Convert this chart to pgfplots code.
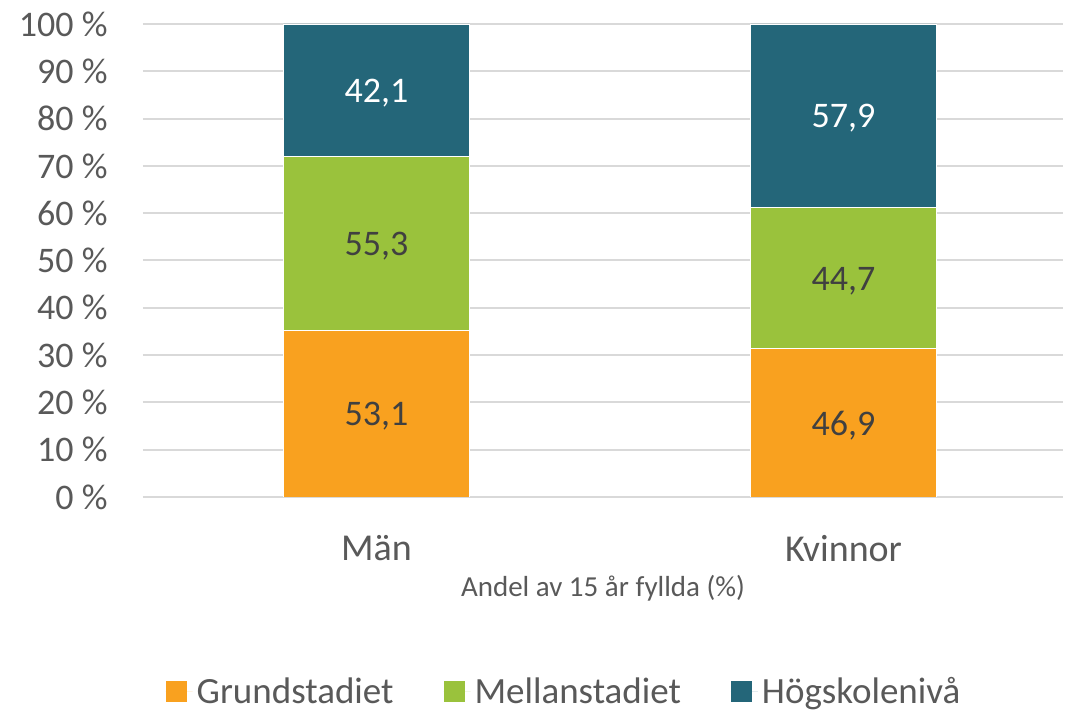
\documentclass[border=0pt]{standalone}
\usepackage{fontspec}
\setmainfont{Carlito}
\usepackage{pgfplots}
\pgfplotsset{compat=1.18}

\definecolor{grund}{HTML}{F9A11F}
\definecolor{mellan}{HTML}{9AC23C}
\definecolor{hog}{HTML}{246679}
\definecolor{txt}{HTML}{595959}
\definecolor{lab}{HTML}{404040}
\definecolor{gridc}{HTML}{D9D9D9}

% bar heights: share of each row total; labels: values shown in the chart
\pgfplotstableread{
x grund glab mellan mlab hog hlab
0 35.28 53,1 36.74 55,3 27.98 42,1
1 31.37 46,9 29.90 44,7 38.73 57,9
}\data

\begin{document}
\begin{tikzpicture}
\path[use as bounding box] (-71.5pt,-107pt) rectangle (461.5pt,248.5pt);
\begin{axis}[
  scale only axis, width=460pt, height=236.5pt,
  ybar stacked, bar width=93pt,
  xmin=-0.5, xmax=1.47, ymin=0, ymax=100,
  xtick={0,1}, xticklabels={Män,Kvinnor},
  ytick={0,10,...,100},
  yticklabel={\pgfmathprintnumber{\tick}~\%},
  /pgf/number format/assume math mode=true,
  axis lines*=left,
  y axis line style={draw=none},
  x axis line style={gridc, line width=1pt},
  major tick length=0pt,
  ymajorgrids, grid style={gridc, line width=1pt},
  tick label style={text=txt},
  yticklabel style={anchor=east, inner sep=0pt, xshift=-17.5pt,
    font=\fontsize{18}{21}\selectfont},
  xticklabel style={anchor=north, inner sep=0pt, yshift=-19pt,
    font=\fontsize{19}{22}\selectfont},
  xlabel={Andel av 15 år fyllda (\%)},
  xlabel style={at={(axis description cs:0.5,0)}, anchor=north,
    inner sep=0pt, yshift=-39pt, font=\fontsize{14.5}{17}\selectfont, text=txt},
  point meta=explicit symbolic,
  nodes near coords,
  every node near coord/.append style={font=\fontsize{18}{21}\selectfont,
    anchor=center, yshift=-1.5pt},
  legend columns=3,
  legend style={at={(0.4587,-0.412)}, anchor=center, draw=none,
    font=\fontsize{18.5}{21}\selectfont, text=txt,
    /tikz/every even column/.append style={column sep=23pt}},
  legend image code/.code={\fill[#1,draw=none] (0pt,-5.25pt) rectangle (10.5pt,5.25pt);
    \path[draw=none] (0pt,0pt) -- (13.5pt,0pt);},
]
\addplot[fill=grund, draw=white, line width=0.3pt,
  every node near coord/.append style={text=lab}]
  table[x=x, y=grund, meta=glab] {\data};
\addlegendentry{Grundstadiet}
\addplot[fill=mellan, draw=white, line width=0.3pt,
  every node near coord/.append style={text=lab}]
  table[x=x, y=mellan, meta=mlab] {\data};
\addlegendentry{Mellanstadiet}
\addplot[fill=hog, draw=white, line width=0.3pt,
  every node near coord/.append style={text=white}]
  table[x=x, y=hog, meta=hlab] {\data};
\addlegendentry{Högskolenivå}
\end{axis}
\end{tikzpicture}
\end{document}
